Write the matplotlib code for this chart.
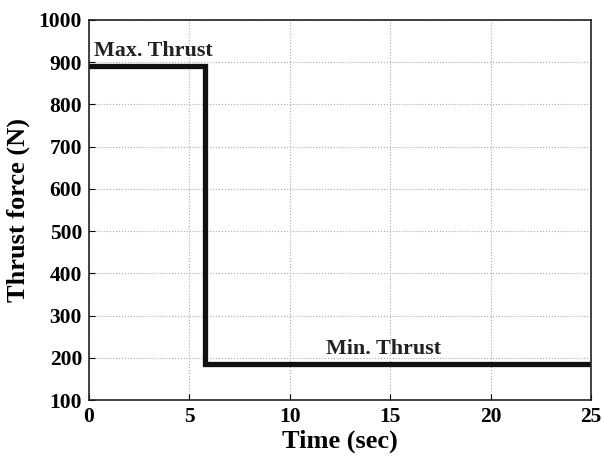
import matplotlib
matplotlib.use("Agg")
import matplotlib.pyplot as plt

# thrust profile: max thrust until burnout, then min thrust
time_s = [0, 5.8, 5.8, 25]
thrust_n = [890, 890, 185, 185]

x_ticks = [0, 5, 10, 15, 20, 25]
y_ticks = [100, 200, 300, 400, 500, 600, 700, 800, 900, 1000]

plt.rcParams['font.family'] = 'Liberation Serif'
plt.rcParams['font.weight'] = 'bold'

fig = plt.figure(figsize=(6.03, 4.59), dpi=100)
ax = fig.add_axes([89 / 603, 59 / 459, 502 / 603, 380 / 459])

ax.plot(time_s, thrust_n, color='#111111', linewidth=3.8, solid_joinstyle='miter')

ax.set_xlim(0, 25)
ax.set_ylim(100, 1000)
ax.set_xticks(x_ticks)
ax.set_yticks(y_ticks)
ax.tick_params(direction='in', labelsize=15.5, length=4, width=0.8, pad=5)
for lbl in ax.get_xticklabels() + ax.get_yticklabels():
    lbl.set_fontweight('bold')
ax.grid(True, color='#aaaaaa', linestyle=':', linewidth=0.8)
for sp in ax.spines.values():
    sp.set_linewidth(1.2)
    sp.set_color('#222222')

ax.set_xlabel('Time (sec)', fontsize=19, fontweight='bold', labelpad=2)
ax.set_ylabel('Thrust force (N)', fontsize=19, fontweight='bold', labelpad=6)

ax.text(0.25, 915, 'Max. Thrust', fontsize=15.8, fontweight='bold', color='#222222')
ax.text(11.8, 210, 'Min. Thrust', fontsize=15.8, fontweight='bold', color='#222222')

fig.savefig('out.png', dpi=100)
